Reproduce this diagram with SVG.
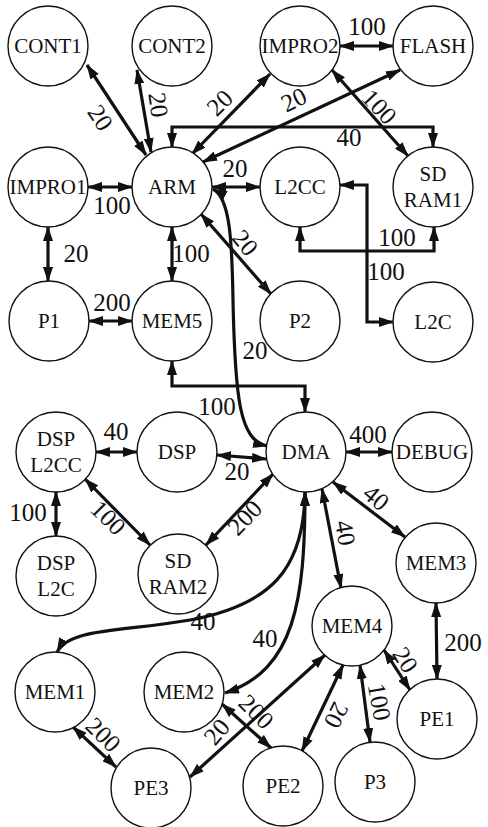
<svg xmlns="http://www.w3.org/2000/svg" width="488" height="827" viewBox="0 0 488 827">
<defs>
<marker id="a" viewBox="0 0 15 10" refX="14" refY="5" markerWidth="15" markerHeight="10" markerUnits="userSpaceOnUse" orient="auto-start-reverse">
<path d="M0,0 L15,5 L0,10 z" fill="#111"/>
</marker>
</defs>
<rect width="488" height="827" fill="#fff"/>

<g id="connectors" fill="none" stroke="#111" stroke-width="3.2" marker-start="url(#a)" marker-end="url(#a)">
<line x1="87" y1="65" x2="146" y2="155"/>
<line x1="137" y1="70" x2="151" y2="152"/>
<line x1="270" y1="74" x2="192" y2="154"/>
<line x1="400" y1="70" x2="203" y2="162"/>
<path d="M172,147 L172,127 L433,127 L433,147"/>
<line x1="340" y1="46" x2="393" y2="46"/>
<line x1="332" y1="70" x2="408" y2="156"/>
<line x1="88" y1="187" x2="132" y2="187"/>
<line x1="212" y1="187" x2="260" y2="187"/>
<path d="M300,227 L300,251 L434,251 L434,227"/>
<path d="M340,185 L367,185 L367,322 L393,322"/>
<line x1="48" y1="227" x2="48" y2="281"/>
<line x1="172" y1="227" x2="172" y2="281"/>
<line x1="89" y1="321" x2="132" y2="321"/>
<line x1="201" y1="214" x2="271" y2="294"/>
<path d="M213,189 C230,198 232,240 233,300 C235,400 240,440 267,446"/>
<path d="M172,361 L172,386 L305,386 L305,412"/>
<line x1="96" y1="452" x2="137" y2="452"/>
<line x1="217" y1="455" x2="266" y2="459"/>
<line x1="56" y1="492" x2="56" y2="536"/>
<line x1="85" y1="479" x2="150" y2="545"/>
<line x1="273" y1="474" x2="206" y2="545"/>
<line x1="346" y1="452" x2="392" y2="452"/>
<line x1="333" y1="482" x2="405" y2="537"/>
<line x1="322" y1="489" x2="341" y2="588"/>
<line x1="436" y1="603" x2="437" y2="679"/>
<path d="M305,492 C304,570 270,605 190,620 C120,632 70,628 57,652"/>
<path d="M305,492 C305,600 295,670 225,693"/>
<line x1="325" y1="655" x2="190" y2="777"/>
<line x1="222" y1="704" x2="271" y2="748"/>
<line x1="343" y1="665" x2="302" y2="751"/>
<line x1="360" y1="665" x2="370" y2="742"/>
<line x1="384" y1="650" x2="410" y2="690"/>
<line x1="73" y1="727" x2="116" y2="767"/>
</g>

<g id="edge-labels" fill="#111">
<text font-family="'Liberation Serif', 'Times New Roman', serif" font-size="25" text-anchor="middle" x="100" y="126" transform="rotate(56 100 118)">20</text>
<text font-family="'Liberation Serif', 'Times New Roman', serif" font-size="25" text-anchor="middle" x="158" y="113" transform="rotate(82 158 105)">20</text>
<text font-family="'Liberation Serif', 'Times New Roman', serif" font-size="25" text-anchor="middle" x="220" y="111" transform="rotate(-45 220 103)">20</text>
<text font-family="'Liberation Serif', 'Times New Roman', serif" font-size="25" text-anchor="middle" x="294" y="108" transform="rotate(-26 294 100)">20</text>
<text font-family="'Liberation Serif', 'Times New Roman', serif" font-size="25" text-anchor="middle" x="349" y="146">40</text>
<text font-family="'Liberation Serif', 'Times New Roman', serif" font-size="25" text-anchor="middle" x="367" y="35">100</text>
<text font-family="'Liberation Serif', 'Times New Roman', serif" font-size="25" text-anchor="middle" x="379" y="115" transform="rotate(47 379 107)">100</text>
<text font-family="'Liberation Serif', 'Times New Roman', serif" font-size="25" text-anchor="middle" x="112" y="214">100</text>
<text font-family="'Liberation Serif', 'Times New Roman', serif" font-size="25" text-anchor="middle" x="235" y="177">20</text>
<text font-family="'Liberation Serif', 'Times New Roman', serif" font-size="25" text-anchor="middle" x="397" y="246">100</text>
<text font-family="'Liberation Serif', 'Times New Roman', serif" font-size="25" text-anchor="middle" x="386" y="280">100</text>
<text font-family="'Liberation Serif', 'Times New Roman', serif" font-size="25" text-anchor="middle" x="76" y="262">20</text>
<text font-family="'Liberation Serif', 'Times New Roman', serif" font-size="25" text-anchor="middle" x="191" y="262">100</text>
<text font-family="'Liberation Serif', 'Times New Roman', serif" font-size="25" text-anchor="middle" x="112" y="311">200</text>
<text font-family="'Liberation Serif', 'Times New Roman', serif" font-size="25" text-anchor="middle" x="245" y="251" transform="rotate(50 245 243)">20</text>
<text font-family="'Liberation Serif', 'Times New Roman', serif" font-size="25" text-anchor="middle" x="255" y="359">20</text>
<text font-family="'Liberation Serif', 'Times New Roman', serif" font-size="25" text-anchor="middle" x="217" y="415">100</text>
<text font-family="'Liberation Serif', 'Times New Roman', serif" font-size="25" text-anchor="middle" x="116" y="440">40</text>
<text font-family="'Liberation Serif', 'Times New Roman', serif" font-size="25" text-anchor="middle" x="237" y="480">20</text>
<text font-family="'Liberation Serif', 'Times New Roman', serif" font-size="25" text-anchor="middle" x="28" y="521">100</text>
<text font-family="'Liberation Serif', 'Times New Roman', serif" font-size="25" text-anchor="middle" x="108" y="526" transform="rotate(45 108 518)">100</text>
<text font-family="'Liberation Serif', 'Times New Roman', serif" font-size="25" text-anchor="middle" x="245" y="526" transform="rotate(-46 245 518)">200</text>
<text font-family="'Liberation Serif', 'Times New Roman', serif" font-size="25" text-anchor="middle" x="368" y="443">400</text>
<text font-family="'Liberation Serif', 'Times New Roman', serif" font-size="25" text-anchor="middle" x="376" y="506" transform="rotate(40 376 498)">40</text>
<text font-family="'Liberation Serif', 'Times New Roman', serif" font-size="25" text-anchor="middle" x="345" y="541" transform="rotate(80 345 533)">40</text>
<text font-family="'Liberation Serif', 'Times New Roman', serif" font-size="25" text-anchor="middle" x="463" y="651">200</text>
<text font-family="'Liberation Serif', 'Times New Roman', serif" font-size="25" text-anchor="middle" x="203" y="630">40</text>
<text font-family="'Liberation Serif', 'Times New Roman', serif" font-size="25" text-anchor="middle" x="265" y="647">40</text>
<text font-family="'Liberation Serif', 'Times New Roman', serif" font-size="25" text-anchor="middle" x="217" y="740" transform="rotate(-50 217 732)">20</text>
<text font-family="'Liberation Serif', 'Times New Roman', serif" font-size="25" text-anchor="middle" x="256" y="720" transform="rotate(45 256 712)">200</text>
<text font-family="'Liberation Serif', 'Times New Roman', serif" font-size="25" text-anchor="middle" x="336" y="723" transform="rotate(116 336 715)">20</text>
<text font-family="'Liberation Serif', 'Times New Roman', serif" font-size="25" text-anchor="middle" x="379" y="710" transform="rotate(80 379 702)">100</text>
<text font-family="'Liberation Serif', 'Times New Roman', serif" font-size="25" text-anchor="middle" x="405" y="668" transform="rotate(58 405 660)">20</text>
<text font-family="'Liberation Serif', 'Times New Roman', serif" font-size="25" text-anchor="middle" x="103" y="743" transform="rotate(45 103 735)">200</text>
</g>

<g id="nodes">
<g id="CONT1"><circle cx="48" cy="46" r="40" fill="#fff" stroke="#111" stroke-width="1.4"/><text font-family="'Liberation Serif', 'Times New Roman', serif" font-size="21" text-anchor="middle" fill="#111" x="48" y="53">CONT1</text></g>
<g id="CONT2"><circle cx="172" cy="46" r="40" fill="#fff" stroke="#111" stroke-width="1.4"/><text font-family="'Liberation Serif', 'Times New Roman', serif" font-size="21" text-anchor="middle" fill="#111" x="172" y="53">CONT2</text></g>
<g id="IMPRO2"><circle cx="300" cy="46" r="40" fill="#fff" stroke="#111" stroke-width="1.4"/><text font-family="'Liberation Serif', 'Times New Roman', serif" font-size="21" text-anchor="middle" fill="#111" x="300" y="53">IMPRO2</text></g>
<g id="FLASH"><circle cx="433" cy="46" r="40" fill="#fff" stroke="#111" stroke-width="1.4"/><text font-family="'Liberation Serif', 'Times New Roman', serif" font-size="21" text-anchor="middle" fill="#111" x="433" y="53">FLASH</text></g>
<g id="IMPRO1"><circle cx="48" cy="187" r="40" fill="#fff" stroke="#111" stroke-width="1.4"/><text font-family="'Liberation Serif', 'Times New Roman', serif" font-size="21" text-anchor="middle" fill="#111" x="48" y="194">IMPRO1</text></g>
<g id="ARM"><circle cx="172" cy="187" r="40" fill="#fff" stroke="#111" stroke-width="1.4"/><text font-family="'Liberation Serif', 'Times New Roman', serif" font-size="21" text-anchor="middle" fill="#111" x="172" y="194">ARM</text></g>
<g id="L2CC"><circle cx="300" cy="187" r="40" fill="#fff" stroke="#111" stroke-width="1.4"/><text font-family="'Liberation Serif', 'Times New Roman', serif" font-size="21" text-anchor="middle" fill="#111" x="300" y="194">L2CC</text></g>
<g id="SDRAM1"><circle cx="433" cy="187" r="40" fill="#fff" stroke="#111" stroke-width="1.4"/><text font-family="'Liberation Serif', 'Times New Roman', serif" font-size="21" text-anchor="middle" fill="#111" x="433" y="181">SD</text><text font-family="'Liberation Serif', 'Times New Roman', serif" font-size="21" text-anchor="middle" fill="#111" x="433" y="207">RAM1</text></g>
<g id="P1"><circle cx="49" cy="321" r="40" fill="#fff" stroke="#111" stroke-width="1.4"/><text font-family="'Liberation Serif', 'Times New Roman', serif" font-size="21" text-anchor="middle" fill="#111" x="49" y="328">P1</text></g>
<g id="MEM5"><circle cx="172" cy="321" r="40" fill="#fff" stroke="#111" stroke-width="1.4"/><text font-family="'Liberation Serif', 'Times New Roman', serif" font-size="21" text-anchor="middle" fill="#111" x="172" y="328">MEM5</text></g>
<g id="P2"><circle cx="300" cy="321" r="40" fill="#fff" stroke="#111" stroke-width="1.4"/><text font-family="'Liberation Serif', 'Times New Roman', serif" font-size="21" text-anchor="middle" fill="#111" x="300" y="328">P2</text></g>
<g id="L2C"><circle cx="433" cy="322" r="40" fill="#fff" stroke="#111" stroke-width="1.4"/><text font-family="'Liberation Serif', 'Times New Roman', serif" font-size="21" text-anchor="middle" fill="#111" x="433" y="329">L2C</text></g>
<g id="DSPL2CC"><circle cx="56" cy="452" r="40" fill="#fff" stroke="#111" stroke-width="1.4"/><text font-family="'Liberation Serif', 'Times New Roman', serif" font-size="21" text-anchor="middle" fill="#111" x="56" y="446">DSP</text><text font-family="'Liberation Serif', 'Times New Roman', serif" font-size="21" text-anchor="middle" fill="#111" x="56" y="472">L2CC</text></g>
<g id="DSP"><circle cx="177" cy="452" r="40" fill="#fff" stroke="#111" stroke-width="1.4"/><text font-family="'Liberation Serif', 'Times New Roman', serif" font-size="21" text-anchor="middle" fill="#111" x="177" y="459">DSP</text></g>
<g id="DMA"><circle cx="306" cy="452" r="40" fill="#fff" stroke="#111" stroke-width="1.4"/><text font-family="'Liberation Serif', 'Times New Roman', serif" font-size="21" text-anchor="middle" fill="#111" x="306" y="459">DMA</text></g>
<g id="DEBUG"><circle cx="432" cy="452" r="40" fill="#fff" stroke="#111" stroke-width="1.4"/><text font-family="'Liberation Serif', 'Times New Roman', serif" font-size="21" text-anchor="middle" fill="#111" x="432" y="459">DEBUG</text></g>
<g id="DSPL2C"><circle cx="56" cy="576" r="40" fill="#fff" stroke="#111" stroke-width="1.4"/><text font-family="'Liberation Serif', 'Times New Roman', serif" font-size="21" text-anchor="middle" fill="#111" x="56" y="570">DSP</text><text font-family="'Liberation Serif', 'Times New Roman', serif" font-size="21" text-anchor="middle" fill="#111" x="56" y="596">L2C</text></g>
<g id="SDRAM2"><circle cx="178" cy="574" r="40" fill="#fff" stroke="#111" stroke-width="1.4"/><text font-family="'Liberation Serif', 'Times New Roman', serif" font-size="21" text-anchor="middle" fill="#111" x="178" y="568">SD</text><text font-family="'Liberation Serif', 'Times New Roman', serif" font-size="21" text-anchor="middle" fill="#111" x="178" y="594">RAM2</text></g>
<g id="MEM3"><circle cx="436" cy="563" r="40" fill="#fff" stroke="#111" stroke-width="1.4"/><text font-family="'Liberation Serif', 'Times New Roman', serif" font-size="21" text-anchor="middle" fill="#111" x="436" y="570">MEM3</text></g>
<g id="MEM4"><circle cx="352" cy="626" r="40" fill="#fff" stroke="#111" stroke-width="1.4"/><text font-family="'Liberation Serif', 'Times New Roman', serif" font-size="21" text-anchor="middle" fill="#111" x="352" y="633">MEM4</text></g>
<g id="MEM1"><circle cx="55" cy="692" r="40" fill="#fff" stroke="#111" stroke-width="1.4"/><text font-family="'Liberation Serif', 'Times New Roman', serif" font-size="21" text-anchor="middle" fill="#111" x="55" y="699">MEM1</text></g>
<g id="MEM2"><circle cx="184" cy="692" r="40" fill="#fff" stroke="#111" stroke-width="1.4"/><text font-family="'Liberation Serif', 'Times New Roman', serif" font-size="21" text-anchor="middle" fill="#111" x="184" y="699">MEM2</text></g>
<g id="PE1"><circle cx="437" cy="719" r="40" fill="#fff" stroke="#111" stroke-width="1.4"/><text font-family="'Liberation Serif', 'Times New Roman', serif" font-size="21" text-anchor="middle" fill="#111" x="437" y="726">PE1</text></g>
<g id="PE3"><circle cx="151" cy="788" r="40" fill="#fff" stroke="#111" stroke-width="1.4"/><text font-family="'Liberation Serif', 'Times New Roman', serif" font-size="21" text-anchor="middle" fill="#111" x="151" y="795">PE3</text></g>
<g id="PE2"><circle cx="283" cy="786" r="40" fill="#fff" stroke="#111" stroke-width="1.4"/><text font-family="'Liberation Serif', 'Times New Roman', serif" font-size="21" text-anchor="middle" fill="#111" x="283" y="793">PE2</text></g>
<g id="P3"><circle cx="375" cy="782" r="40" fill="#fff" stroke="#111" stroke-width="1.4"/><text font-family="'Liberation Serif', 'Times New Roman', serif" font-size="21" text-anchor="middle" fill="#111" x="375" y="789">P3</text></g>
</g>
</svg>
